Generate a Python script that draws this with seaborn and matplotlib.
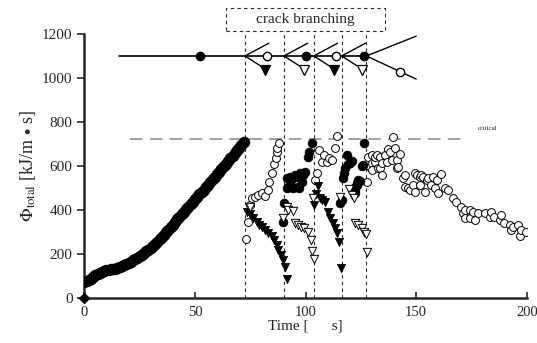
import numpy as np
import pandas as pd
import seaborn as sns
import matplotlib.pyplot as plt
from matplotlib.patches import Rectangle

# curva principal (circulos cheios) antes da primeira ramificacao
curve_t = list(range(0, 73))
curve_phi = [75, 76, 80, 88, 96, 103, 109, 114, 119, 123, 126, 128, 130, 131, 133, 136, 140, 145,
             150, 155, 160, 166, 172, 178, 184, 190, 197, 204, 212, 220, 229, 238, 247, 257, 267,
             277, 288, 299, 310, 321, 333, 345, 357, 369, 381, 393, 405, 416, 427, 438, 449, 460,
             471, 482, 493, 504, 515, 527, 539, 551, 563, 575, 587, 599, 611, 623, 635, 647, 659,
             671, 683, 695, 708]

# circulos cheios depois da ramificacao
fc_t = [89.9, 90.3, 91.7, 91.7, 92.1, 92.9, 93.2, 93.9, 94.4, 95.1, 95.5, 96.6, 96.9, 97.4, 98.4,
        98.9, 99.2, 99.6, 101.0, 101.7, 102.9, 115.4, 116.4, 116.9, 117.4, 118.0, 118.7, 119.4,
        120.2, 120.9, 121.7, 122.4, 122.4, 123.2, 123.2, 123.9, 124.7, 125.4, 125.9, 126.6]
fc_phi = [347, 430, 498, 544, 506, 551, 536, 503, 498, 559, 551, 506, 498, 567, 529,
          559, 567, 574, 642, 665, 706, 430, 445, 544, 570, 589, 650, 607,
          612, 623, 498, 476, 491, 514, 521, 536, 532, 600, 605, 706]

# circulos abertos
oc_t = [73.1, 73.9, 74.9, 75.9, 77.1, 78.6, 80.2, 81.6, 83.1, 83.6, 84.7, 85.8, 86.5, 86.9, 87.3,
        88.1, 104.4, 105.2, 105.9, 107.4, 108.2, 109.7, 110.4, 112.0, 113.4, 114.2, 127.7, 128.4,
        129.2, 129.9, 129.9, 129.9, 131.4, 131.4, 132.2, 132.9, 133.7, 133.7, 134.4, 134.4, 135.9,
        136.7, 137.4, 138.2, 138.9, 139.7, 140.4, 141.2, 141.2, 141.9, 142.7, 144.2, 144.9, 144.9,
        146.4, 147.2, 148.7, 149.4, 149.4, 150.2, 151.7, 151.7, 152.4, 153.2, 153.9, 154.7, 155.4,
        156.9, 157.7, 158.4, 159.2, 159.9, 161.0, 162.9, 164.4, 166.7, 168.1, 170.4, 171.2, 171.9,
        171.9, 174.2, 174.2, 175.7, 176.4, 177.9, 180.9, 183.2, 183.9, 185.4, 187.7, 188.4, 189.9,
        192.2, 192.9, 193.7, 195.9, 196.8, 197.4, 199.6]
oc_phi = [268, 347, 423, 456, 460, 468, 476, 465, 491, 529, 567, 607, 635, 662, 683,
          703, 536, 567, 673, 620, 650, 620, 635, 627, 680, 736, 529, 642,
          597, 650, 612, 582, 620, 642, 650, 589, 589, 642, 559, 612, 650,
          620, 676, 665, 627, 730, 680, 627, 589, 597, 655, 544, 506, 559,
          498, 491, 514, 483, 567, 559, 551, 514, 559, 551, 483, 536, 544,
          514, 551, 498, 536, 476, 564, 498, 491, 453, 438, 415, 385, 400,
          362, 400, 362, 392, 355, 385, 385, 370, 392, 370, 355, 377, 339,
          332, 309, 324, 332, 282, 309, 302]

# triangulos cheios
ft_t = [73.4, 74.9, 76.4, 77.9, 79.0, 80.2, 81.6, 83.1, 84.7, 85.8, 86.9, 87.6, 88.7, 89.9, 90.6,
        91.4, 103.7, 105.5, 104.9, 106.5, 107.4, 109.0, 110.0, 111.2, 112.4, 113.4, 114.2, 114.9,
        116.1]
ft_phi = [389, 380, 365, 347, 332, 324, 309, 294, 282, 264, 241, 218, 195, 173, 142,
          86, 423, 508, 471, 456, 445, 435, 392, 362, 339, 317, 294, 256,
          137]

# triangulos abertos
ot_t = [74.7, 89.8, 91.4, 92.1, 94.4, 95.1, 96.4, 97.9, 99.4, 101.2, 102.6, 102.9, 103.7, 103.2,
        115.4, 119.6, 120.9, 121.7, 122.4, 123.9, 125.4, 126.6, 127.2, 127.7]
ot_phi = [412, 365, 415, 400, 395, 339, 332, 324, 317, 302, 264, 214, 176, 453,
          460, 495, 468, 455, 339, 332, 317, 302, 291, 210]

# esquema de ramificacao no topo
branch_t = [72.6, 90.2, 103.7, 116.3, 127.5]
node_fill = [False, True, False, True]      # circulo na linha principal
tri_fill = [True, False, True, False]       # triangulo do ramo de baixo
phi_critical = 725

sns.set_style("ticks")
plt.rcParams['font.family'] = ['Liberation Serif', 'DejaVu Serif']
plt.rcParams['mathtext.fontset'] = 'stix'

fig = plt.figure(figsize=(5.37, 3.43), dpi=100)
ax = fig.add_axes([0.157, 0.131, 0.824, 0.770])

# linha critica
ax.plot([20.5, 173], [phi_critical, phi_critical], color='0.6', lw=1.3, ls=(0, (7, 4)))
ax.text(178, phi_critical + 35, 'critical', fontsize=5, va='bottom')

# linhas verticais tracejadas
ax.vlines(branch_t, 0, 1214, colors='0.15', lw=0.8, ls=(0, (3, 3)), clip_on=False)

sns.scatterplot(x=curve_t, y=curve_phi, marker='o', s=60, color='black', edgecolor='black',
                linewidth=0.5, ax=ax, zorder=3)
sns.scatterplot(x=oc_t, y=oc_phi, marker='o', s=32, color='white', edgecolor='black',
                linewidth=0.7, ax=ax, zorder=3)
sns.scatterplot(x=fc_t, y=fc_phi, marker='o', s=40, color='black', edgecolor='black',
                linewidth=0.5, ax=ax, zorder=4)
sns.scatterplot(x=ft_t, y=ft_phi, marker='v', s=36, color='black', edgecolor='black',
                linewidth=0.5, ax=ax, zorder=4)
sns.scatterplot(x=ot_t, y=ot_phi, marker='v', s=36, color='white', edgecolor='black',
                linewidth=0.7, ax=ax, zorder=4)
ax.scatter([0], [0], marker='D', s=25, color='black', clip_on=False, zorder=5)

# esquema: linha principal com ramos
ax.plot([15.5, branch_t[-1]], [1100, 1100], color='black', lw=1.2)
ax.plot([52.4], [1100], 'o', ms=6, color='black')
for b, nf, tf in zip(branch_t[:-1], node_fill, tri_fill):
    ax.plot([b, b + 10.8], [1100, 1158], color='black', lw=1.0)
    ax.plot([b, b + 7], [1100, 1055], color='black', lw=1.0)
    ax.plot([b + 10], [1100], 'o', ms=6, mfc='black' if nf else 'white', mec='black', mew=1.0)
    ax.plot([b + 9], [1038], 'v', ms=7, mfc='black' if tf else 'white', mec='black', mew=0.9)
b5 = branch_t[-1]
ax.plot([b5, 150], [1100, 1190], color='black', lw=1.0)
ax.plot([b5, 150], [1100, 995], color='black', lw=1.0)
ax.plot([142.8], [1029], 'o', ms=6, mfc='white', mec='black', mew=1.0)

# caixa "crack branching"
ax.add_patch(Rectangle((64, 1214), 72, 104, fill=False, lw=0.8, ls=(0, (3, 3)),
                       ec='0.15', clip_on=False))
ax.text(100, 1266, 'crack branching', fontsize=11, ha='center', va='center')

ax.set_xlim(0, 200)
ax.set_ylim(0, 1200)
ax.set_xticks([0, 50, 100, 150, 200])
ax.set_yticks([0, 200, 400, 600, 800, 1000, 1200])
ax.tick_params(axis='x', direction='in', length=4, width=1.2, labelsize=10.5, pad=6)
ax.tick_params(axis='y', direction='out', length=5, width=1.2, labelsize=11)
for s in ['left', 'bottom']:
    ax.spines[s].set_linewidth(1.8)
sns.despine(ax=ax)

ax.set_xlabel('Time [      s]', fontsize=11, labelpad=0)
ax.set_ylabel(r'$\Phi_{\rm total}$ [kJ/m $\bullet$ s]', fontsize=13, labelpad=3)

fig.savefig('out.png', dpi=100)
